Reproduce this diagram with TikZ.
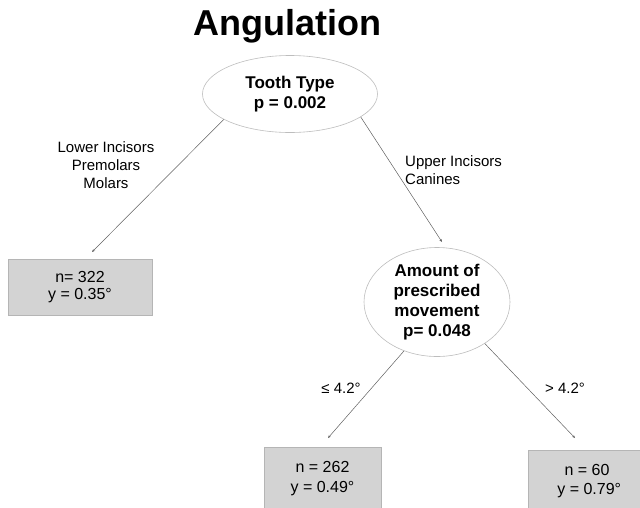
\documentclass[tikz,border=0pt]{standalone}
\usepackage{fontspec}
\setmainfont{Liberation Sans}
\usetikzlibrary{shapes.geometric,arrows.meta}
\definecolor{boxfill}{HTML}{D3D3D3}
\definecolor{boxline}{HTML}{B5B5B5}
\definecolor{ellline}{HTML}{BDBDBD}
\definecolor{conn}{HTML}{606060}
\begin{document}
\begin{tikzpicture}[x=1pt,y=-1pt,
  splitnode/.style={ellipse,draw=ellline,line width=0.6pt,fill=white,inner sep=0pt,align=center,font=\fontsize{17}{20}\selectfont\bfseries},
  leafbox/.style={rectangle,draw=boxline,fill=boxfill,line width=0.6pt,inner sep=0pt,align=center},
  edgelabel/.style={inner sep=0pt,font=\fontsize{15}{18}\selectfont},
  conn/.style={draw=conn,line width=0.5pt,-{Stealth[length=3pt,width=2.5pt]}}
]
\useasboundingbox (0,0) rectangle (640,507);
\node[anchor=base,font=\fontsize{36}{40}\selectfont\bfseries] (title) at (287,35) {Angulation};
\node[splitnode,minimum width=175pt,minimum height=77pt] (tt) at (290,94) {Tooth Type\\p = 0.002};
\node[splitnode,minimum width=146pt,minimum height=109pt] (am) at (437,302) {Amount of\\prescribed\\movement\\p= 0.048};
\node[leafbox,minimum width=144pt,minimum height=56pt,font=\fontsize{16}{16.5}\selectfont] (l1) at (80,287) {n= 322\\y = 0.35°};
\node[leafbox,minimum width=117pt,minimum height=64pt,font=\fontsize{16}{20}\selectfont] (l2) at (322.5,479) {n = 262\\y = 0.49°};
\node[leafbox,minimum width=118pt,minimum height=62pt,font=\fontsize{16}{19}\selectfont] (l3) at (587,481) {n = 60\\\ y = 0.79°};
\coordinate (e1) at (92,252);
\coordinate (e2) at (442,242);
\coordinate (e3) at (328,438);
\coordinate (e4) at (575,438);
\draw[conn] (tt.201) -- (e1);
\draw[conn] (tt.-18) -- (e2);
\draw[conn] (am.236) -- (e3);
\draw[conn] (am.-41) -- (e4);
\node[edgelabel,align=center] (lab1) at (106,165) {Lower Incisors\\Premolars\\Molars};
\node[edgelabel,align=left,anchor=west] (lab2) at (405,170.5) {Upper Incisors\\Canines};
\node[edgelabel] (lab3) at (341,388) {≤ 4.2°};
\node[edgelabel] (lab4) at (565,388) {> 4.2°};
\end{tikzpicture}
\end{document}
